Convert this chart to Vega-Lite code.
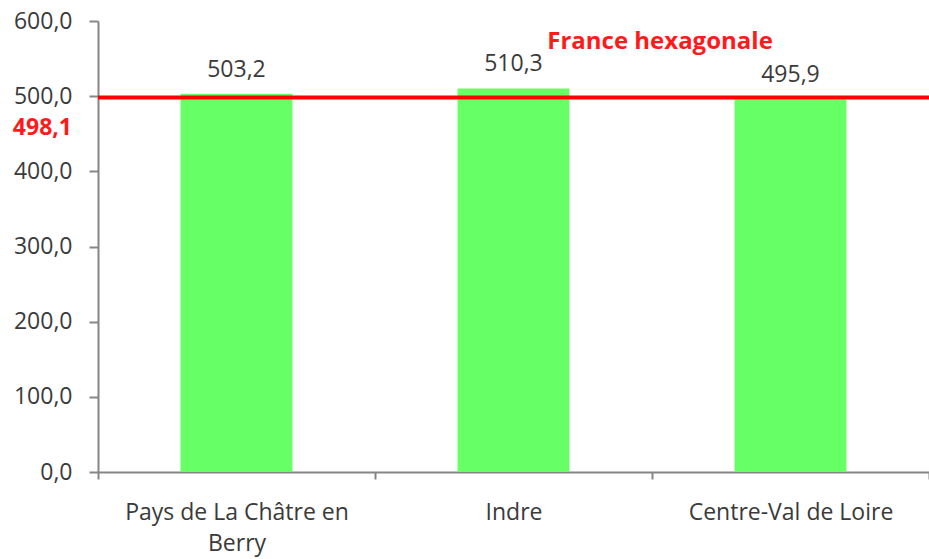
{
  "$schema": "https://vega.github.io/schema/vega-lite/v6.json",
  "width": 831,
  "height": 451,
  "autosize": {"type": "none"},
  "padding": {"left": 98, "top": 21, "right": 0, "bottom": 87},
  "background": "white",
  "config": {
    "locale": {"number": {"decimal": ",", "thousands": " ", "grouping": [3], "currency": ["", " €"]}},
    "view": {"stroke": null},
    "font": "Open Sans",
    "axis": {
      "grid": false,
      "domainColor": "#868686",
      "domainWidth": 2,
      "tickColor": "#868686",
      "tickWidth": 2,
      "labelFont": "Open Sans",
      "labelFontSize": 23,
      "labelColor": "#3a3a3a",
      "labelLimit": 0,
      "title": null
    }
  },
  "data": {
    "values": [
      {"territoire": "Pays de La Châtre en Berry", "valeur": 503.2},
      {"territoire": "Indre", "valeur": 510.3},
      {"territoire": "Centre-Val de Loire", "valeur": 495.9}
    ]
  },
  "encoding": {
    "x": {
      "field": "territoire",
      "type": "nominal",
      "sort": null,
      "scale": {"paddingInner": 0, "paddingOuter": 0},
      "axis": {
        "labelAngle": 0,
        "tickBand": "extent",
        "tickSize": 7,
        "labelPadding": 22,
        "labelLineHeight": 31,
        "labelExpr": "datum.label == 'Pays de La Châtre en Berry' ? ['Pays de La Châtre en', 'Berry'] : datum.label"
      }
    }
  },
  "layer": [
    {
      "mark": {"type": "bar", "color": "#66FF66", "width": {"band": 0.404}},
      "encoding": {
        "y": {
          "field": "valeur",
          "type": "quantitative",
          "scale": {"domain": [0, 600], "nice": false},
          "axis": {"values": [0, 100, 200, 300, 400, 500, 600], "format": ".1f", "tickSize": 9, "labelPadding": 17}
        }
      }
    },
    {
      "mark": {"type": "text", "baseline": "alphabetic", "dy": -17, "fontSize": 23, "color": "#3a3a3a", "font": "Open Sans"},
      "encoding": {
        "y": {"field": "valeur", "type": "quantitative"},
        "text": {"field": "valeur", "type": "quantitative", "format": ".1f"}
      }
    },
    {
      "data": {"values": [{"reference": "France hexagonale", "valeur": 498.1, "position": "Centre-Val de Loire"}]},
      "layer": [
        {
          "mark": {"type": "rule", "color": "#FF0000", "strokeWidth": 4},
          "encoding": {
            "x": null,
            "y": {"field": "valeur", "type": "quantitative"}
          }
        },
        {
          "mark": {"type": "text", "align": "center", "baseline": "alphabetic", "dx": 8, "dy": -49, "fontSize": 24, "fontWeight": "bold", "color": "#FF1A1A", "font": "Open Sans"},
          "encoding": {
            "x": {"field": "position", "type": "nominal", "bandPosition": 0},
            "y": {"field": "valeur", "type": "quantitative"},
            "text": {"field": "reference"}
          }
        },
        {
          "mark": {"type": "text", "align": "right", "baseline": "alphabetic", "dx": -26, "dy": 37, "fontSize": 23, "fontWeight": "bold", "color": "#FF1A1A", "font": "Open Sans"},
          "encoding": {
            "x": {"value": 0},
            "y": {"field": "valeur", "type": "quantitative"},
            "text": {"field": "valeur", "type": "quantitative", "format": ".1f"}
          }
        }
      ]
    }
  ]
}
